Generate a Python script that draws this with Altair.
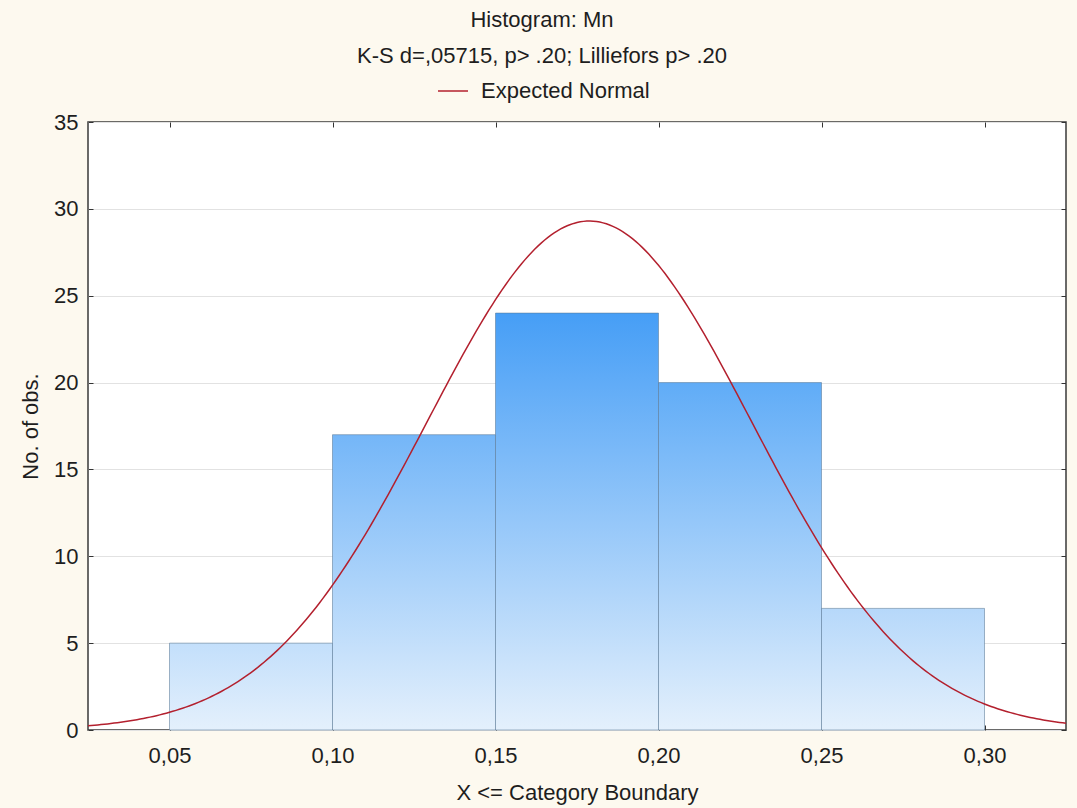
import numpy as np
import pandas as pd
import altair as alt

# Histogram classes (upper boundary inclusive) and observed counts
bin_lo = [0.05, 0.10, 0.15, 0.20, 0.25]
bin_hi = [0.10, 0.15, 0.20, 0.25, 0.30]
counts = [5, 17, 24, 20, 7]

# Fitted normal parameters for the expected curve
fit_mean = 0.1788
fit_sd = 0.0497
bin_width = 0.05
n_obs = sum(counts)

x_ticks = [0.05, 0.10, 0.15, 0.20, 0.25, 0.30]
y_ticks = [0, 5, 10, 15, 20, 25, 30, 35]
x_domain = [0.025, 0.325]
y_domain = [0, 35]

FONT = "Liberation Sans"
FS = 22
TEXT = "#1e1e1e"
PLOT_W, PLOT_H = 978, 608

# vertical fill ramp: pale at zero, saturated at the tallest class
pale = (228, 240, 252)
deep = (70, 158, 246)
top_value = max(counts)


def ramp(v):
    t = v / top_value
    rgb = [round(p + (d - p) * t) for p, d in zip(pale, deep)]
    return "#%02x%02x%02x" % tuple(rgb)


x_scale = alt.Scale(domain=x_domain, nice=False, zero=False)
y_scale = alt.Scale(domain=y_domain, nice=False, zero=True)

comma_label = "replace(format(datum.value, '.2f'), '.', ',')"

bars_df = pd.DataFrame({"lo": bin_lo, "hi": bin_hi, "n": counts})

layers = []
for i, row in bars_df.iterrows():
    grad = alt.Gradient(
        gradient="linear",
        x1=0, y1=0, x2=0, y2=1,
        stops=[
            alt.GradientStop(offset=0, color=ramp(row["n"])),
            alt.GradientStop(offset=1, color=ramp(0)),
        ],
    )
    if i == 0:
        x_axis = alt.Axis(
            values=x_ticks, labelExpr=comma_label, title="X <= Category Boundary",
            offset=-5, tickSize=5, tickColor="#333", domain=False, grid=False,
            labelPadding=15, titlePadding=16,
        )
        y_axis = alt.Axis(
            values=y_ticks, title="No. of obs.", offset=-5, tickSize=5,
            tickColor="#333", domain=False, grid=True, gridColor="#e2e2e2",
            labelPadding=10, titlePadding=11,
        )
    else:
        x_axis = None
        y_axis = None
    layer = (
        alt.Chart(bars_df.iloc[[i]])
        .mark_rect(fill=grad, stroke="#5a7896", strokeOpacity=0.55, strokeWidth=1)
        .encode(
            x=alt.X("lo:Q", scale=x_scale, axis=x_axis),
            x2="hi:Q",
            y=alt.Y("n:Q", scale=y_scale, axis=y_axis),
            y2=alt.datum(0),
        )
    )
    layers.append(layer)

# Expected normal frequencies per class width
xs = np.linspace(x_domain[0], x_domain[1], 301)
ys = n_obs * bin_width * np.exp(-0.5 * ((xs - fit_mean) / fit_sd) ** 2) / (fit_sd * np.sqrt(2 * np.pi))
curve_df = pd.DataFrame({"x": xs, "y": ys, "series": "Expected Normal"})

curve = (
    alt.Chart(curve_df)
    .mark_line(strokeWidth=1.5, clip=True)
    .encode(
        x=alt.X("x:Q", scale=x_scale, axis=alt.Axis(
            orient="top", values=x_ticks, labels=False, title=None, offset=-5,
            tickSize=5, tickColor="#333", domain=False, grid=False)),
        y=alt.Y("y:Q", scale=y_scale, axis=alt.Axis(
            orient="right", values=y_ticks, labels=False, title=None, offset=-5,
            tickSize=5, tickColor="#333", domain=False, grid=False)),
        color=alt.Color(
            "series:N",
            scale=alt.Scale(domain=["Expected Normal"], range=["#b3202e"]),
            legend=alt.Legend(
                orient="none", legendX=349, legendY=-47, title=None,
                symbolType="stroke", symbolSize=900, symbolStrokeWidth=1.5,
                labelFont=FONT, labelFontSize=FS, labelColor=TEXT, labelOffset=12,
                labelLimit=400, padding=0,
            ),
        ),
        order="x:Q",
    )
)

chart = (
    alt.layer(*layers, curve)
    .resolve_axis(x="independent", y="independent")
    .properties(
        width=PLOT_W,
        height=PLOT_H,
        autosize=alt.AutoSizeParams(type="none"),
        padding={"left": 88, "top": 122, "right": 11, "bottom": 78},
        background="#fdf9ef",
        title=alt.TitleParams(
            text="Histogram: Mn",
            subtitle="K-S d=,05715, p> .20; Lilliefors p> .20",
            font=FONT, subtitleFont=FONT, fontSize=FS, subtitleFontSize=FS,
            fontWeight="normal", color=TEXT, subtitleColor=TEXT,
            anchor="middle", dx=-35, offset=7, subtitlePadding=14,
        ),
    )
    .configure_view(fill="white", stroke="#3a3a3a", strokeWidth=1.5)
    .configure_axis(
        labelFont=FONT, labelFontSize=FS, labelColor=TEXT,
        titleFont=FONT, titleFontSize=FS, titleColor=TEXT, titleFontWeight="normal",
    )
)

chart.save("out.html", embed_options={"renderer": "svg", "actions": False})
